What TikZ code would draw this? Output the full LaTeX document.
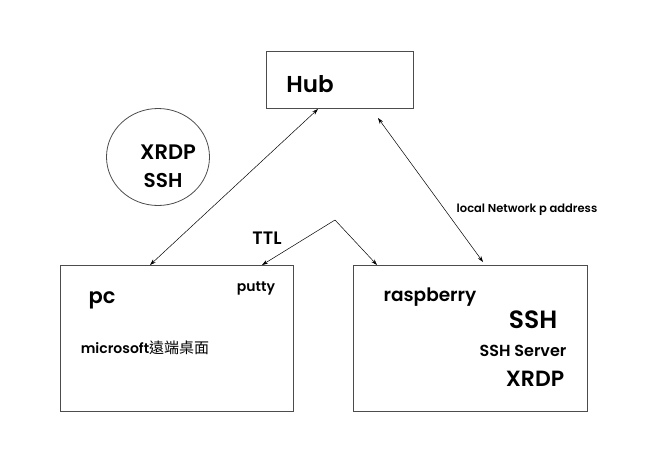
\documentclass[tikz,border=0pt]{standalone}
\usepackage{fontspec}
\setmainfont{Poppins}[BoldFont={Poppins SemiBold}]
\newfontfamily\cjk{Noto Sans CJK TC}
\usetikzlibrary{arrows.meta,shapes.geometric}
\begin{document}
\begin{tikzpicture}[x=1pt,y=-1pt,
  box/.style={draw=black!70,line width=0.8pt,inner sep=0pt},
  conn/.style={line width=0.5pt,{Stealth[length=6pt,width=4pt]}-{Stealth[length=6pt,width=4pt]}},
  oneway/.style={line width=0.5pt,-{Stealth[length=6pt,width=4pt]}},
  lbl/.style={inner sep=0pt,font=\bfseries}]
\useasboundingbox (0,0) rectangle (664,448);
% boxes
\node[box,minimum width=147pt,minimum height=57pt] (hub) at (339.5,79.5) {};
\node[box,ellipse,minimum width=103pt,minimum height=97pt] (circ) at (158,157) {};
\node[box,minimum width=233pt,minimum height=146pt] (pc) at (176.5,338) {};
\node[box,minimum width=234pt,minimum height=146pt] (rasp) at (470,338) {};
% texts
\node[lbl,font=\bfseries\fontsize{23}{26}\selectfont] (thub) at (310,84) {Hub};
\node[lbl,font=\bfseries\fontsize{21}{23}\selectfont] (tx1) at (168,152) {XRDP};
\node[lbl,font=\bfseries\fontsize{20}{22}\selectfont] (tx2) at (163,180) {SSH};
\node[lbl,font=\bfseries\fontsize{18}{20}\selectfont] (tttl) at (267,238) {TTL};
\node[lbl,font=\bfseries\fontsize{14}{16}\selectfont] (tputty) at (256,289) {putty};
\node[lbl,font=\bfseries\fontsize{21}{23}\selectfont] (tpc) at (102,300) {pc};
\node[lbl,font=\bfseries\fontsize{14}{16}\selectfont] (tms) at (145,348) {microsoft{\cjk\mdseries\fontsize{15}{16}\selectfont 遠端桌面}};
\node[lbl,font=\bfseries\fontsize{18.5}{20}\selectfont] (trasp) at (430,297) {raspberry};
\node[lbl,font=\bfseries\fontsize{25}{28}\selectfont] (tssh) at (533,320) {SSH};
\node[lbl,font=\bfseries\fontsize{16}{18}\selectfont] (tsshs) at (523,351) {SSH Server};
\node[lbl,font=\bfseries\fontsize{22}{24}\selectfont] (txr) at (535,379) {XRDP};
\node[lbl,font=\bfseries\fontsize{11.5}{13}\selectfont] (tlocal) at (527,210) {local Network p address};
% connectors
\coordinate (hubA) at (318,109);
\coordinate (pcA) at (150,265);
\coordinate (hubB) at (378,118);
\coordinate (raspB) at (483,262);
\coordinate (apex) at (335,220);
\coordinate (puttyE) at (262,265);
\coordinate (raspE) at (377,265);
\draw[conn] (pcA) -- (hubA);
\draw[conn] (hubB) -- (raspB);
\draw[oneway] (apex) -- (puttyE);
\draw[oneway] (apex) -- (raspE);
\end{tikzpicture}
\end{document}
